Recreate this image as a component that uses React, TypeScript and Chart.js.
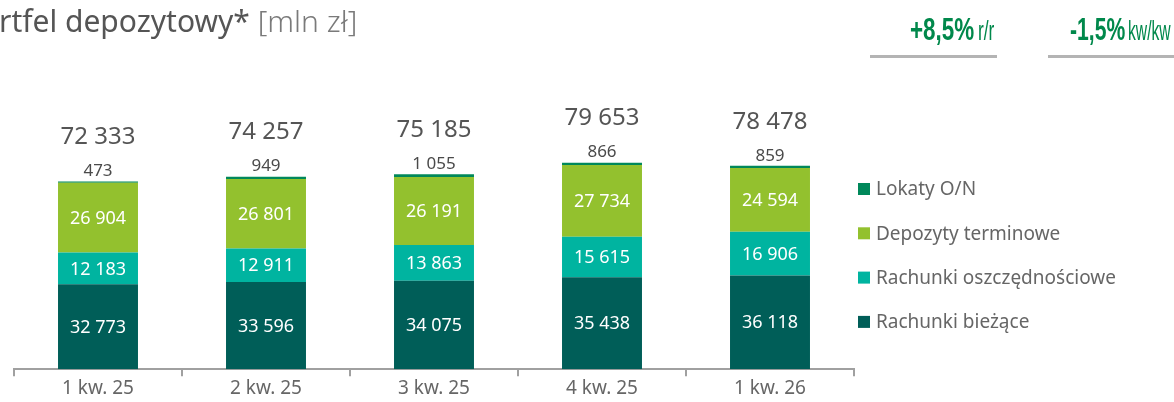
import React, { useEffect, useRef } from "react";
import { Chart, registerables } from "chart.js";

Chart.register(...registerables);

const categories = ["1 kw. 25", "2 kw. 25", "3 kw. 25", "4 kw. 25", "1 kw. 26"];
const rachunkiBiezace = [32773, 33596, 34075, 35438, 36118];
const rachunkiOszczednosciowe = [12183, 12911, 13863, 15615, 16906];
const depozytyTerminowe = [26904, 26801, 26191, 27734, 24594];
const lokatyON = [473, 949, 1055, 866, 859];
const totals = [72333, 74257, 75185, 79653, 78478];

const seriesNames = ["Rachunki bieżące", "Rachunki oszczędnościowe", "Depozyty terminowe", "Lokaty O/N"];
const seriesColors = ["#005e58", "#00b4a0", "#93c12e", "#00885a"];

const kpiYoY = "+8,5%";
const kpiQoQ = "-1,5%";

const FONT = "'Noto Sans', sans-serif";

const fmt = (v: number) => String(v).replace(/\B(?=(\d{3})+(?!\d))/g, " ");

const labelPlugin = {
  id: "labelsAndLegend",
  afterDatasetsDraw(chart: any) {
    const ctx = chart.ctx;
    ctx.save();
    ctx.textAlign = "center";
    ctx.textBaseline = "middle";
    for (let d = 0; d < 3; d++) {
      const meta = chart.getDatasetMeta(d);
      meta.data.forEach((bar: any, i: number) => {
        const v = chart.data.datasets[d].data[i];
        const cy = (bar.y + bar.base) / 2;
        ctx.fillStyle = "#ffffff";
        ctx.font = `18px ${FONT}`;
        ctx.fillText(fmt(v), bar.x, cy + 1);
      });
    }
    const topMeta = chart.getDatasetMeta(3);
    topMeta.data.forEach((bar: any, i: number) => {
      const v = chart.data.datasets[3].data[i];
      ctx.fillStyle = "#4a4a4a";
      ctx.font = `17px ${FONT}`;
      ctx.fillText(fmt(v), bar.x, bar.y - 10);
      ctx.fillStyle = "#555555";
      ctx.font = `24px ${FONT}`;
      ctx.fillText(fmt(totals[i]), bar.x, bar.y - 44);
    });
    const startY = 189;
    const step = 44.3;
    ctx.textAlign = "left";
    for (let k = 0; k < 4; k++) {
      const d = 3 - k;
      const y = startY + k * step;
      ctx.fillStyle = chart.data.datasets[d].backgroundColor;
      ctx.fillRect(858, y - 6, 12, 12);
      ctx.fillStyle = "#666666";
      ctx.font = `19px ${FONT}`;
      ctx.fillText(chart.data.datasets[d].label, 876, y + 1);
    }
    ctx.restore();
  },
};

export default function App() {
  const ref = useRef<HTMLCanvasElement | null>(null);
  useEffect(() => {
    if (!ref.current) return;
    const series = [rachunkiBiezace, rachunkiOszczednosciowe, depozytyTerminowe, lokatyON];
    const chart = new Chart(ref.current, {
      type: "bar",
      data: {
        labels: categories,
        datasets: series.map((s, i) => ({
          label: seriesNames[i],
          data: s,
          backgroundColor: seriesColors[i],
          borderWidth: 0,
          barPercentage: 0.476,
          categoryPercentage: 1,
        })),
      },
      options: {
        responsive: false,
        animation: false,
        layout: { padding: { left: 14, right: 320, top: 58, bottom: 1 } },
        plugins: { legend: { display: false }, tooltip: { enabled: false } },
        scales: {
          x: {
            stacked: true,
            grid: { display: true, drawOnChartArea: false, drawTicks: true, tickLength: 7, color: "#a0a0a0", lineWidth: 2 },
            border: { display: true, color: "#a0a0a0", width: 2 },
            ticks: { color: "#666666", font: { family: FONT, size: 19 }, padding: 1 },
          },
          y: { stacked: true, display: false, min: 0, max: 120000 },
        },
      },
      plugins: [labelPlugin],
    });
    return () => chart.destroy();
  }, []);

  const KFONT = "'Liberation Sans', Arial, sans-serif";
  const kpi = (big: string, small: string, left: number, smallLeft: number, bigScale: number, smallScale: number, lineLeft: number, lineWidth: number) => (
    <>
      <div style={{ position: "absolute", top: 13.4, left, whiteSpace: "nowrap", color: "#00884b", fontFamily: KFONT, fontSize: 32, lineHeight: "32px", fontWeight: 700, transform: `scaleX(${bigScale})`, transformOrigin: "left top" }}>{big}</div>
      <div style={{ position: "absolute", top: 16.8, left: smallLeft, whiteSpace: "nowrap", color: "#00884b", fontFamily: KFONT, fontSize: 28, lineHeight: "28px", transform: `scaleX(${smallScale})`, transformOrigin: "left top" }}>{small}</div>
      <div style={{ position: "absolute", top: 55, left: lineLeft, width: lineWidth, height: 3, background: "#b4b4b4" }} />
    </>
  );

  return (
    <div style={{ position: "fixed", left: 0, top: 0, width: 1174, height: 402, overflow: "hidden", background: "#ffffff" }}>
      <canvas ref={ref} width={1174} height={402} style={{ position: "absolute", left: 0, top: 0 }} />
      <div style={{ position: "absolute", left: -1, top: 0, whiteSpace: "nowrap", fontFamily: FONT, fontSize: 30, color: "#555555" }}>
        <span>rtfel depozytowy*</span>
        <span style={{ color: "#7a7a7a", fontWeight: 300 }}> [mln zł]</span>
      </div>
      {kpi(kpiYoY, "r/r", 910, 978, 0.7, 0.62, 870, 127)}
      {kpi(kpiQoQ, "kw/kw", 1070, 1128, 0.66, 0.56, 1048, 126)}
    </div>
  );
}
